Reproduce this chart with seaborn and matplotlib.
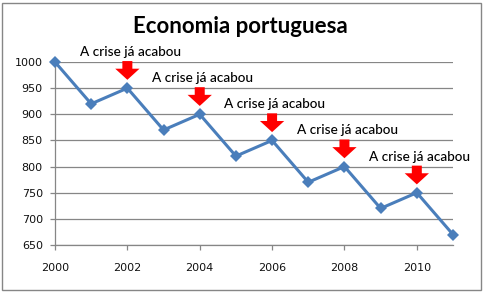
import matplotlib
matplotlib.use("Agg")
import matplotlib.pyplot as plt
import seaborn as sns
import pandas as pd
from matplotlib.patches import Rectangle

years = [2000, 2001, 2002, 2003, 2004, 2005, 2006, 2007, 2008, 2009, 2010, 2011]
values = [1000, 920, 950, 870, 900, 820, 850, 770, 800, 720, 750, 670]
annot_years = [2002, 2004, 2006, 2008, 2010]
annot_text = "A crise já acabou"
title = "Economia portuguesa"
x_ticks = [2000, 2002, 2004, 2006, 2008, 2010]
y_ticks = [650, 700, 750, 800, 850, 900, 950, 1000]

sns.set_theme(style="white")
plt.rcParams['font.family'] = ['DejaVu Sans']

df = pd.DataFrame({"ano": years, "valor": values})

fig = plt.figure(figsize=(4.84, 2.92), dpi=100)
ax = fig.add_axes([55/484, 47/292, 398/484, 183/292])

grey = "#868686"
blue = "#4A7EBB"

ax.set_ylim(650, 1000)
ax.set_xlim(2000, 2011)
ax.set_yticks(y_ticks)
ax.set_xticks(x_ticks)
ax.yaxis.grid(True, color=grey, linewidth=0.9)
ax.xaxis.grid(False)
ax.set_axisbelow(True)

sns.lineplot(data=df, x="ano", y="valor", ax=ax, color=blue, linewidth=2.2,
             marker="D", markersize=6.5, markeredgewidth=0, markerfacecolor=blue,
             clip_on=False, zorder=3)

ax.set_xlabel("")
ax.set_ylabel("")
for s in ["top", "right"]:
    ax.spines[s].set_visible(False)
for s in ["left", "bottom"]:
    ax.spines[s].set_color(grey)
    ax.spines[s].set_linewidth(0.9)

ax.tick_params(axis="both", which="both", direction="out", length=3.8, width=0.9,
               color=grey, labelsize=8, labelcolor="#111111")
ax.tick_params(axis="y", pad=5)
ax.tick_params(axis="x", pad=9)
ax.tick_params(left=True, bottom=True)

lookup = dict(zip(years, values))
for yr in annot_years:
    v = lookup[yr]
    ax.annotate("", xy=(yr, v), xytext=(0, 19.5), textcoords="offset points",
                arrowprops=dict(arrowstyle="simple,head_width=1.75,head_length=0.8,tail_width=0.72",
                                color="#FF0000", shrinkA=0, shrinkB=6, mutation_scale=10,
                                linewidth=0),
                zorder=4)
    ax.annotate(annot_text, xy=(yr, v), xytext=(2, 26), textcoords="offset points",
                ha="center", va="center", fontsize=9.8, family="Lato", fontweight="medium",
                color="#000000", annotation_clip=False)

fig.text(240.5/484, 1 - 33/292, title, ha="center", va="baseline",
         fontsize=16, fontweight="bold", family="Lato", color="#000000")

fig.patches.append(Rectangle((1.5/484, 2.5/292), 479/484, 287/292, transform=fig.transFigure,
                             fill=False, edgecolor=grey, linewidth=1.0))

fig.savefig("out.png", dpi=100)
